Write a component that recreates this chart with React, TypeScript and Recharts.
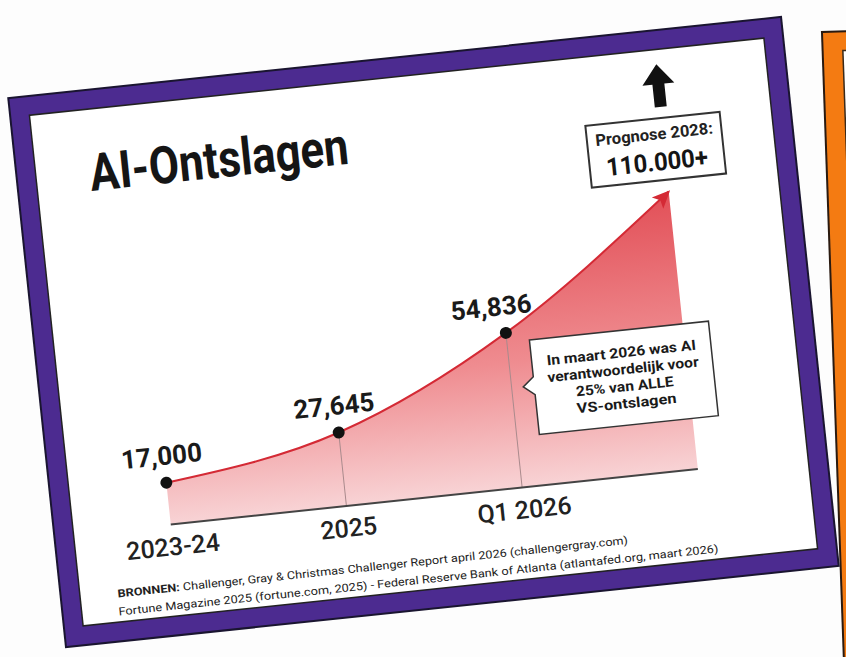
import React from 'react';
import { AreaChart, Area, XAxis, YAxis, ReferenceLine, LabelList } from 'recharts';

// ---- data ----
const categories = ['2023-24', '2025', 'Q1 2026', '2028'];
const layoffs = [17000, 27645, 54836, 96000];
const valueLabels = ['17,000', '27,645', '54,836', ''];
const tickLabels = ['2023-24', '2025', 'Q1 2026', ''];
const titleText = 'AI-Ontslagen';
const forecastLines = ['Prognose 2028:', '110.000+'];
const calloutLines = ['In maart 2026 was AI', 'verantwoordelijk voor', '25% van ALLE', 'VS-ontslagen'];
const sourceLabel = 'BRONNEN:';
const sourceLines = [
  ' Challenger, Gray & Christmas Challenger Report april 2026 (challengergray.com)',
  'Fortune Magazine 2025 (fortune.com, 2025) - Federal Reserve Bank of Atlanta (atlantafed.org, maart 2026)',
];
const Y_DOMAIN: [number, number] = [3000, 100000];

const data = categories.map((c, i) => ({ cat: c, value: layoffs[i], label: valueLabels[i] }));

const FONT = 'Roboto, "Noto Sans", sans-serif';
const CARD_W = 775;
const CARD_H = 550;

const Tick = (props: any) => {
  const { x, y, index } = props;
  const t = tickLabels[index];
  if (!t) return null;
  return (
    <text x={x} y={y + 31} textAnchor="middle" fontFamily={FONT} fontWeight={500} fontSize={25} fill="#222">
      {t}
    </text>
  );
};

const Dot = (props: any) => {
  const { cx, cy, index } = props;
  if (cx == null || cy == null) return <g key={`d-${index}`} />;
  if (index === data.length - 1) {
    return (
      <polygon
        key={`d-${index}`}
        points="2,0 -16,-8 -12,0 -16,8"
        fill="#d42a35"
        transform={`translate(${cx},${cy}) rotate(-40)`}
      />
    );
  }
  return <circle key={`d-${index}`} cx={cx} cy={cy} r={6} fill="#111" />;
};

const ValueLabel = (props: any) => {
  const { x, y, value, index } = props;
  if (!value) return null;
  const dx = index === 2 ? -12 : -2;
  return (
    <text key={`l-${index}`} x={x + dx} y={y - 18} textAnchor="middle" fontFamily={FONT} fontWeight={700} fontSize={26} fill="#1a1a1a">
      {value}
    </text>
  );
};

const Overlay = () => (
  <svg width={CARD_W} height={CARD_H} style={{ position: 'absolute', left: 0, top: 0, pointerEvents: 'none' }}>
    <text x={72} y={100} fontFamily={FONT} fontWeight={700} fontSize={52} fill="#151515" textLength={260} lengthAdjust="spacingAndGlyphs">
      {titleText}
    </text>
    {/* up arrow */}
    <polygon points="647,33 663,53 653,53 653,76 641,76 641,53 631,53" fill="#111" />
    {/* forecast box */}
    <rect x={570} y={87} width={135} height={62} fill="#fff" stroke="#333" strokeWidth={2} />
    <text x={637.5} y={108} textAnchor="middle" fontFamily={FONT} fontWeight={700} fontSize={16} fill="#222" textLength={118} lengthAdjust="spacingAndGlyphs">
      {forecastLines[0]}
    </text>
    <text x={637.5} y={139} textAnchor="middle" fontFamily={FONT} fontWeight={700} fontSize={25} fill="#151515" textLength={102} lengthAdjust="spacingAndGlyphs">
      {forecastLines[1]}
    </text>
    {/* callout */}
    <path d="M492,294 L672,294 L672,389 L492,389 L492,349 L481,340 L492,331 Z" fill="#fff" stroke="#333" strokeWidth={1.5} />
    {calloutLines.map((t, i) => (
      <text
        key={t}
        x={582}
        y={321 + i * 17}
        textAnchor="middle"
        fontFamily={FONT}
        fontWeight={700}
        fontSize={14}
        fill="#1a1a1a"
        textLength={[150, 152, 98, 100][i]}
        lengthAdjust="spacingAndGlyphs"
      >
        {t}
      </text>
    ))}
    {/* sources */}
    <text x={56} y={507} fontFamily={FONT} fontSize={11} fill="#222" textLength={513} lengthAdjust="spacingAndGlyphs">
      <tspan fontWeight={700}>{sourceLabel}</tspan>
      <tspan>{sourceLines[0]}</tspan>
    </text>
    <text x={55} y={525} fontFamily={FONT} fontSize={11} fill="#222" textLength={603} lengthAdjust="spacingAndGlyphs">
      {sourceLines[1]}
    </text>
  </svg>
);

export default function App() {
  return (
    <div style={{ position: 'fixed', left: 0, top: 0, width: 846, height: 657, overflow: 'hidden', background: '#fdfdfd' }}>
      {/* orange card on the right */}
      <div
        style={{
          position: 'absolute',
          left: 823,
          top: 33,
          width: 400,
          height: 700,
          background: '#f47b12',
          boxShadow: '0 0 0 2px #2a1a10',
          transform: 'rotate(-2deg)',
          transformOrigin: '0 0',
        }}
      >
        <div style={{ position: 'absolute', left: 20, top: 19, right: 20, bottom: 20, background: '#fff', boxShadow: '0 0 0 1.5px #3a2a1a' }} />
      </div>
      {/* purple card */}
      <div
        style={{
          position: 'absolute',
          left: 36,
          top: 57,
          width: CARD_W,
          height: CARD_H,
          background: '#4c2b90',
          boxShadow: '0 0 0 2px #1a1530',
          transform: 'rotate(-6deg)',
        }}
      >
        <div style={{ position: 'absolute', left: 19, top: 19, right: 19, bottom: 19, background: '#fff', boxShadow: '0 0 0 1.5px #222' }} />
        <div style={{ position: 'absolute', left: 0, top: 0 }}>
          <AreaChart width={CARD_W} height={CARD_H} data={data} margin={{ top: 149, right: 129, bottom: 70, left: 116 }}>
            <defs>
              <linearGradient id="aiFill" x1="0" y1="0" x2="0" y2="1">
                <stop offset="0%" stopColor="#e24f57" />
                <stop offset="55%" stopColor="#ef8c90" />
                <stop offset="100%" stopColor="#f8d3d5" />
              </linearGradient>
            </defs>
            <XAxis
              dataKey="cat"
              height={40}
              interval={0}
              tickSize={0}
              tickMargin={0}
              tickLine={false}
              axisLine={{ stroke: '#444', strokeWidth: 2 }}
              tick={<Tick />}
              padding={{ left: 0, right: 0 }}
            />
            <YAxis hide type="number" domain={Y_DOMAIN} allowDataOverflow />
            <Area
              type="monotone"
              dataKey="value"
              stroke="#d42a35"
              strokeWidth={2}
              fill="url(#aiFill)"
              fillOpacity={1}
              baseValue={Y_DOMAIN[0]}
              dot={Dot}
              activeDot={false}
              isAnimationActive={false}
            >
              <LabelList dataKey="label" content={ValueLabel} />
            </Area>
            {[1, 2].map((i) => (
              <ReferenceLine
                key={categories[i]}
                segment={[
                  { x: categories[i], y: Y_DOMAIN[0] },
                  { x: categories[i], y: layoffs[i] },
                ]}
                stroke="#a98a8c"
                strokeWidth={1}
              />
            ))}
          </AreaChart>
        </div>
        <Overlay />
      </div>
    </div>
  );
}
